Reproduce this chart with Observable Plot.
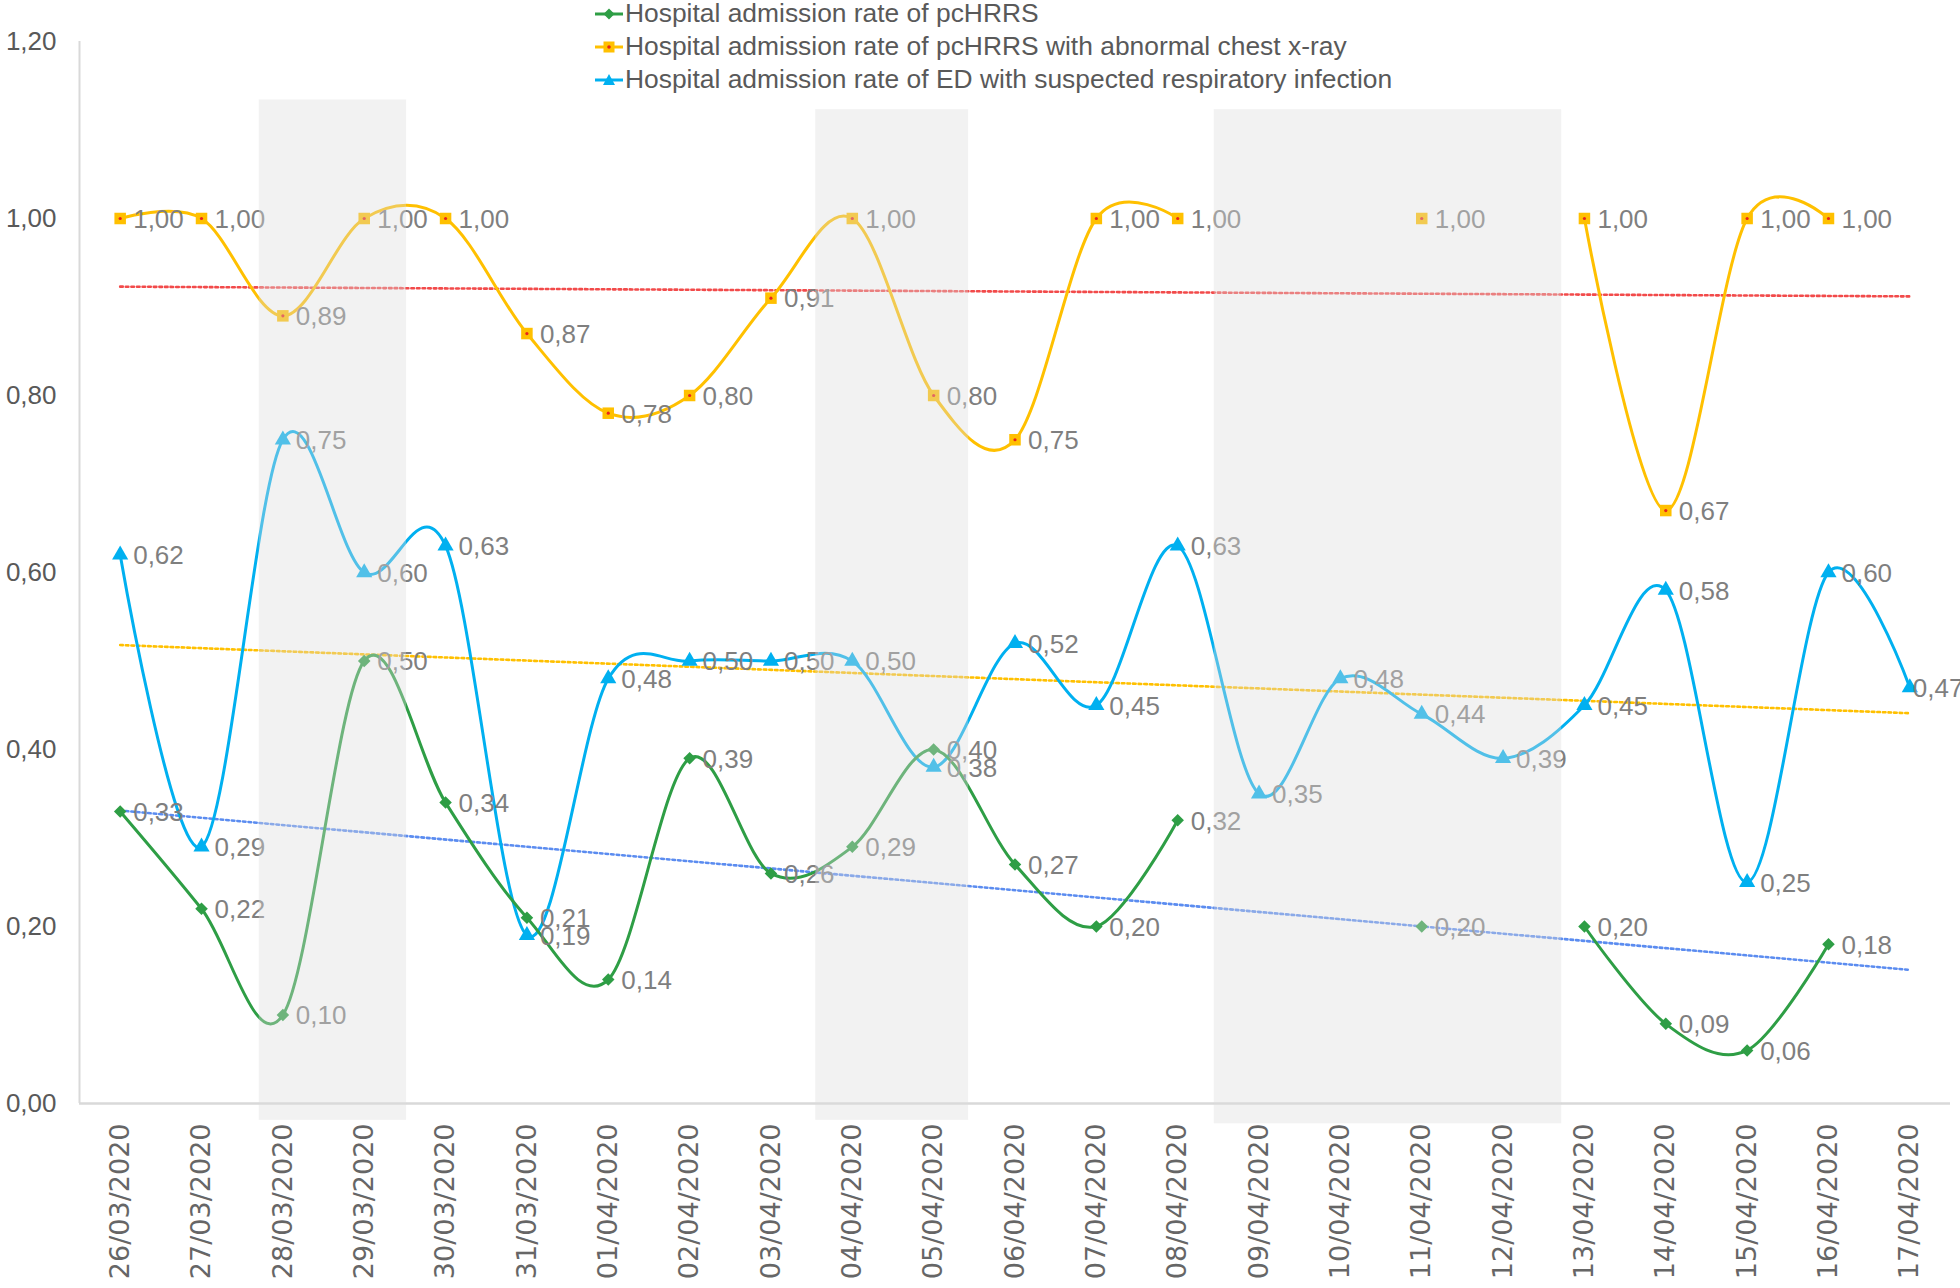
<!DOCTYPE html>
<html>
<head>
<meta charset="utf-8">
<script src="https://cdn.jsdelivr.net/npm/d3@7"></script>
<script src="https://cdn.jsdelivr.net/npm/@observablehq/plot@0.6"></script>
<style>
  html, body { margin: 0; padding: 0; background: #fff; }
  #wrap { position: relative; width: 1960px; height: 1288px; }
  #legend { position: absolute; left: 594px; top: -3px; font-family: 'Liberation Sans', Arial, sans-serif; font-size: 26.4px; color: #595959; line-height: 33px; }
  #legend .row { display: flex; align-items: center; height: 33px; white-space: nowrap; }
  #legend svg { display: block; margin-right: 1px; }
</style>
</head>
<body>
<div id="wrap">
  <div id="chart"></div>
  <div id="legend"></div>
</div>
<script>
// ---- data ----
const dates = ["26/03/2020","27/03/2020","28/03/2020","29/03/2020","30/03/2020","31/03/2020",
  "01/04/2020","02/04/2020","03/04/2020","04/04/2020","05/04/2020","06/04/2020","07/04/2020",
  "08/04/2020","09/04/2020","10/04/2020","11/04/2020","12/04/2020","13/04/2020","14/04/2020",
  "15/04/2020","16/04/2020","17/04/2020"];

const seriesNames = [
  "Hospital admission rate of pcHRRS",
  "Hospital admission rate of pcHRRS with abnormal chest x-ray",
  "Hospital admission rate of ED with suspected respiratory infection"
];

const pcHRRS = [0.33,0.22,0.10,0.50,0.34,0.21,0.14,0.39,0.26,0.29,0.40,0.27,0.20,0.32,
  null,null,0.20,null,0.20,0.09,0.06,0.18,null];
const pcHRRSxray = [1.00,1.00,0.89,1.00,1.00,0.87,0.78,0.80,0.91,1.00,0.80,0.75,1.00,1.00,
  null,null,1.00,null,1.00,0.67,1.00,1.00,null];
const edRespiratory = [0.62,0.29,0.75,0.60,0.63,0.19,0.48,0.50,0.50,0.50,0.38,0.52,0.45,0.63,
  0.35,0.48,0.44,0.39,0.45,0.58,0.25,0.60,0.47];

// linear trend lines (value at first and last date)
const trendPcHRRS = [0.331, 0.151];
const trendXray = [0.923, 0.912];
const trendED = [0.518, 0.441];

// shaded periods (weekends / holidays), in date-index units
const shadeStart = [1.71, 8.55, 13.45];
const shadeEnd = [3.52, 10.43, 17.72];
const shadeTop = [1.134, 1.123, 1.123];
const shadeBottom = [-0.019, -0.019, -0.023];

const yTicks = [0, 0.2, 0.4, 0.6, 0.8, 1.0, 1.2];

// ---- build tables ----
const rows = arr => dates.map((d, i) => ({i, date: d, v: arr[i]}));
const g = rows(pcHRRS), o = rows(pcHRRSxray), b = rows(edRespiratory);
const defined = r => r.filter(d => d.v != null);
const last = dates.length - 1;
const trend = t => [{i: 0, v: t[0]}, {i: last, v: t[1]}];
const shades = shadeStart.map((s, k) => ({x1: s, x2: shadeEnd[k], y1: shadeBottom[k], y2: shadeTop[k]}));
const fmt = v => v.toFixed(2).replace(".", ",");

const GREEN = "#2e9e45", GOLD = "#ffc000", BLUE = "#00b0f0";
const LABEL = "#7f7f7f";

const labelOpts = {x: "i", y: "v", text: d => fmt(d.v), dx: d => 0, textAnchor: "start",
  fill: LABEL, fontSize: 26};
const lbl = data => Plot.text(data, {x: "i", y: "v", text: d => fmt(d.v),
  dx: 13, dy: 1, textAnchor: "start", fill: LABEL, fontSize: 26});

const dotted = {x: "i", y: "v", strokeWidth: 2.6, strokeDasharray: "2.6,3"};

const chart = Plot.plot({
  width: 1960, height: 1288,
  marginLeft: 79, marginRight: 10, marginTop: 41, marginBottom: 185,
  style: {fontFamily: "'Liberation Sans', Arial, sans-serif", fontSize: "26px", color: "#595959",
    background: "white", overflow: "visible"},
  x: {type: "linear", domain: [-0.5, dates.length - 0.5]},
  y: {domain: [0, 1.2]},
  marks: [
    Plot.ruleX([-0.5], {y1: 0, y2: 1.2, stroke: "#d9d9d9", strokeWidth: 2}),
    Plot.ruleY([0], {stroke: "#d9d9d9", strokeWidth: 2.5}),
    Plot.axisY({ticks: yTicks, tickFormat: fmt, tickSize: 0, tickPadding: 23, fontSize: 26, label: null}),
    Plot.axisX({ticks: dates.map((d, i) => i), tickFormat: i => dates[i], tickRotate: -90,
      tickSize: 0, tickPadding: 20, fontSize: 27, fontFamily: "'DejaVu Sans', sans-serif",
      fill: "#666666", label: null}),
    // trend lines
    Plot.line(trend(trendXray), {...dotted, stroke: "#f24a4a"}),
    Plot.line(trend(trendED), {...dotted, stroke: GOLD}),
    Plot.line(trend(trendPcHRRS), {...dotted, stroke: "#5b8cf0"}),
    // series lines
    Plot.line(o, {x: "i", y: "v", stroke: GOLD, strokeWidth: 3, curve: "cardinal", tension: 0}),
    Plot.line(b, {x: "i", y: "v", stroke: BLUE, strokeWidth: 3, curve: "cardinal", tension: 0}),
    Plot.line(g, {x: "i", y: "v", stroke: GREEN, strokeWidth: 3, curve: "cardinal", tension: 0}),
    // markers
    Plot.dot(defined(o), {x: "i", y: "v", symbol: "square", r: 6.5, fill: GOLD}),
    Plot.dot(defined(o), {x: "i", y: "v", r: 1.6, fill: "#e8241c"}),
    Plot.dot(defined(b), {x: "i", y: "v", symbol: "triangle", r: 6, fill: BLUE}),
    Plot.dot(defined(g), {x: "i", y: "v", symbol: "square", rotate: 45, r: 5, fill: GREEN}),
    // data labels
    lbl(defined(o)),
    lbl(defined(b).filter(d => d.i < last)),
    Plot.text(defined(b).filter(d => d.i === last), {x: "i", y: "v", text: d => fmt(d.v),
      dx: 3, dy: 1, textAnchor: "start", fill: LABEL, fontSize: 26}),
    lbl(defined(g)),
    // shaded periods drawn on top (semi-transparent)
    Plot.rect(shades, {x1: "x1", x2: "x2", y1: "y1", y2: "y2", fill: "#dcdcdc", fillOpacity: 0.37})
  ]
});
document.getElementById("chart").appendChild(chart);

// ---- legend ----
const legend = d3.select("#legend");
const colors = [GREEN, GOLD, BLUE];
seriesNames.forEach((name, k) => {
  const row = legend.append("div").attr("class", "row");
  const svg = row.append("svg").attr("width", 30).attr("height", 20);
  svg.append("line").attr("x1", 1).attr("x2", 29).attr("y1", 10).attr("y2", 10)
    .attr("stroke", colors[k]).attr("stroke-width", 3);
  if (k === 0) {
    svg.append("path").attr("d", "M15,4.5 L20.5,10 L15,15.5 L9.5,10 Z").attr("fill", GREEN);
  } else if (k === 1) {
    svg.append("rect").attr("x", 9.5).attr("y", 4.5).attr("width", 11).attr("height", 11).attr("fill", GOLD);
    svg.append("circle").attr("cx", 15).attr("cy", 10).attr("r", 1.8).attr("fill", "#e8241c");
  } else {
    svg.append("path").attr("d", "M15,4 L21,15 L9,15 Z").attr("fill", BLUE);
  }
  row.append("span").text(name);
});
</script>
</body>
</html>
